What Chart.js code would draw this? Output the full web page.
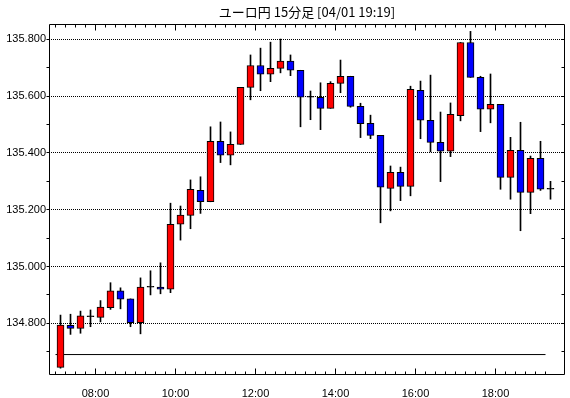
<!DOCTYPE html>
<html lang="ja">

<head>
    <meta charset="UTF-8">
    <script src="https://cdn.jsdelivr.net/npm/chart.js"></script>
    <title>ユーロ円 15分足</title>
    <style>
        body { margin: 0; background: #fff; }
    </style>
</head>

<body>
    <canvas id="chartCandle" width="570" height="398"></canvas>
</body>

</html>

<script>
    // 15分足の開始時刻
    const times = [
        '07:00', '07:15', '07:30', '07:45', '08:00', '08:15', '08:30', '08:45',
        '09:00', '09:15', '09:30', '09:45', '10:00', '10:15', '10:30', '10:45',
        '11:00', '11:15', '11:30', '11:45', '12:00', '12:15', '12:30', '12:45',
        '13:00', '13:15', '13:30', '13:45', '14:00', '14:15', '14:30', '14:45',
        '15:00', '15:15', '15:30', '15:45', '16:00', '16:15', '16:30', '16:45',
        '17:00', '17:15', '17:30', '17:45', '18:00', '18:15', '18:30', '18:45',
        '19:00', '19:15'
    ];

    // 始値 / 高値 / 安値 / 終値
    const opens = [
        134.645, 134.793, 134.782, 134.823, 134.821, 134.855, 134.914, 134.886,
        134.802, 134.927, 134.928, 134.920, 135.149, 135.180, 135.268, 135.228,
        135.441, 135.392, 135.430, 135.631, 135.708, 135.677, 135.698, 135.723,
        135.691, 135.596, 135.596, 135.557, 135.645, 135.670, 135.564, 135.504,
        135.462, 135.275, 135.332, 135.282, 135.620, 135.515, 135.437, 135.406,
        135.531, 135.789, 135.666, 135.554, 135.571, 135.314, 135.409, 135.261,
        135.381, 135.272
    ];
    const highs = [
        134.829, 134.832, 134.843, 134.847, 134.880, 134.943, 134.925, 134.886,
        134.960, 134.985, 135.013, 135.223, 135.213, 135.305, 135.316, 135.492,
        135.509, 135.474, 135.631, 135.745, 135.769, 135.790, 135.801, 135.745,
        135.691, 135.618, 135.647, 135.651, 135.727, 135.670, 135.575, 135.533,
        135.462, 135.354, 135.350, 135.635, 135.653, 135.674, 135.544, 135.576,
        135.789, 135.828, 135.670, 135.678, 135.571, 135.455, 135.508, 135.389,
        135.441, 135.300
    ];
    const lows = [
        134.642, 134.761, 134.765, 134.788, 134.805, 134.849, 134.851, 134.788,
        134.763, 134.900, 134.904, 134.908, 135.093, 135.133, 135.187, 135.228,
        135.366, 135.358, 135.430, 135.587, 135.619, 135.651, 135.682, 135.672,
        135.492, 135.517, 135.482, 135.557, 135.612, 135.561, 135.454, 135.450,
        135.154, 135.196, 135.232, 135.249, 135.450, 135.404, 135.299, 135.387,
        135.513, 135.666, 135.475, 135.506, 135.272, 135.237, 135.126, 135.186,
        135.268, 135.237
    ];
    const closes = [
        134.794, 134.782, 134.826, 134.823, 134.857, 134.914, 134.885, 134.802,
        134.928, 134.927, 134.920, 135.149, 135.181, 135.272, 135.228, 135.441,
        135.392, 135.430, 135.631, 135.708, 135.677, 135.698, 135.723, 135.691,
        135.596, 135.596, 135.557, 135.645, 135.670, 135.564, 135.503, 135.462,
        135.279, 135.332, 135.282, 135.624, 135.515, 135.437, 135.406, 135.536,
        135.789, 135.666, 135.554, 135.571, 135.314, 135.409, 135.261, 135.381,
        135.272, 135.272
    ];

    // 目盛り
    const yTicks = [134.8, 135.0, 135.2, 135.4, 135.6, 135.8];
    const yMinorTicks = [134.7, 134.8, 134.9, 135.0, 135.1, 135.2, 135.3, 135.4, 135.5, 135.6, 135.7, 135.8];
    const xTickLabels = ['08:00', '10:00', '12:00', '14:00', '16:00', '18:00'];

    // 横線 (水準)
    const levelValue = 134.69;
    const levelFrom = '07:00';
    const levelTo = '19:15';

    const toMin = (s) => {
        const [h, m] = s.split(':').map(Number);
        return h * 60 + m;
    };

    // 足は15分の真ん中に置く
    const bodies = times.map((t, i) => ({ x: toMin(t) + 7.5, y: [opens[i], closes[i]] }));
    const wicks = times.map((t, i) => ({ x: toMin(t) + 7.5, y: [lows[i], highs[i]] }));
    // 陽線=赤, 陰線=青, 同値=黒
    const bodyColors = times.map((t, i) =>
        closes[i] > opens[i] ? '#ff0000' : closes[i] < opens[i] ? '#0000ff' : '#000000');

    const align = (p) => Math.round(p - 0.5) + 0.5;

    // 枠と内向きの目盛り線
    const framePlugin = {
        id: 'frame',
        afterDatasetsDraw(chart) {
            const { ctx, chartArea: a, scales: { x, y } } = chart;
            const L = a.left + 0.5, R = a.right - 0.5, T = a.top + 0.5, B = a.bottom - 0.5;
            ctx.save();
            ctx.strokeStyle = '#000';
            ctx.lineWidth = 1;
            ctx.beginPath();
            ctx.rect(L, T, R - L, B - T);

            yMinorTicks.forEach(v => {
                const py = align(y.getPixelForValue(v));
                ctx.moveTo(L - 3, py); ctx.lineTo(L, py);
                ctx.moveTo(R - 3, py); ctx.lineTo(R, py);
            });

            const majors = xTickLabels.map(toMin);
            times.forEach(t => {
                const m = toMin(t);
                const px = align(x.getPixelForValue(m));
                const len = majors.includes(m) ? 6 : 3;
                ctx.moveTo(px, T); ctx.lineTo(px, T + len);
                ctx.moveTo(px, B); ctx.lineTo(px, B - len);
            });
            ctx.stroke();
            ctx.restore();
        }
    };

    const ctx = document.getElementById('chartCandle').getContext('2d');
    const chartCandle = new Chart(ctx, {
        type: 'bar',
        data: {
            datasets: [{
                label: 'body',
                data: bodies,
                backgroundColor: bodyColors,
                borderColor: '#000',
                borderWidth: 1,
                borderSkipped: false,
                barThickness: 7,
                maxBarThickness: 7,
                minBarLength: 1,
                grouped: false,
                order: 0
            }, {
                label: 'wick',
                data: wicks,
                backgroundColor: '#000',
                borderWidth: 0,
                barThickness: 1,
                maxBarThickness: 1,
                grouped: false,
                order: 1
            }, {
                type: 'line',
                label: 'level',
                data: [{ x: toMin(levelFrom), y: levelValue }, { x: toMin(levelTo), y: levelValue }],
                borderColor: '#000',
                borderWidth: 1,
                pointRadius: 0,
                order: 2
            }]
        },
        options: {
            responsive: false,
            animation: false,
            events: [],
            layout: { padding: { top: 0, right: 5, bottom: 0, left: 0 } },
            scales: {
                x: {
                    type: 'linear',
                    offset: false,
                    min: 410.25,
                    max: 1184.25,
                    afterBuildTicks: (scale) => {
                        scale.ticks = xTickLabels.map(s => ({ value: toMin(s) }));
                    },
                    afterFit: (scale) => { scale.height = 23; },
                    grid: { display: false },
                    border: { display: false },
                    ticks: {
                        autoSkip: false,
                        maxRotation: 0,
                        padding: 4,
                        color: '#000',
                        font: { family: 'Liberation Sans', size: 11 },
                        callback: (v, i) => xTickLabels[i]
                    }
                },
                y: {
                    type: 'linear',
                    beginAtZero: false,
                    min: 134.618,
                    max: 135.854,
                    afterBuildTicks: (scale) => {
                        scale.ticks = yTicks.map(v => ({ value: v }));
                    },
                    afterFit: (scale) => { scale.width = 49; },
                    grid: { color: '#000', lineWidth: 1, drawTicks: false },
                    border: { display: false, dash: [1, 1] },
                    ticks: {
                        padding: 3,
                        color: '#000',
                        font: { family: 'Liberation Sans', size: 11 },
                        callback: (v) => v.toFixed(3)
                    }
                }
            },
            plugins: {
                legend: { display: false },
                tooltip: { enabled: false },
                title: {
                    display: true,
                    fullSize: false,
                    text: 'ユーロ円 15分足 [04/01 19:19]',
                    color: '#000',
                    padding: { top: 5, bottom: 5 },
                    font: { family: '"Noto Sans CJK JP", sans-serif', size: 13, weight: 'normal', lineHeight: '14px' }
                }
            }
        },
        plugins: [framePlugin]
    });
</script>
